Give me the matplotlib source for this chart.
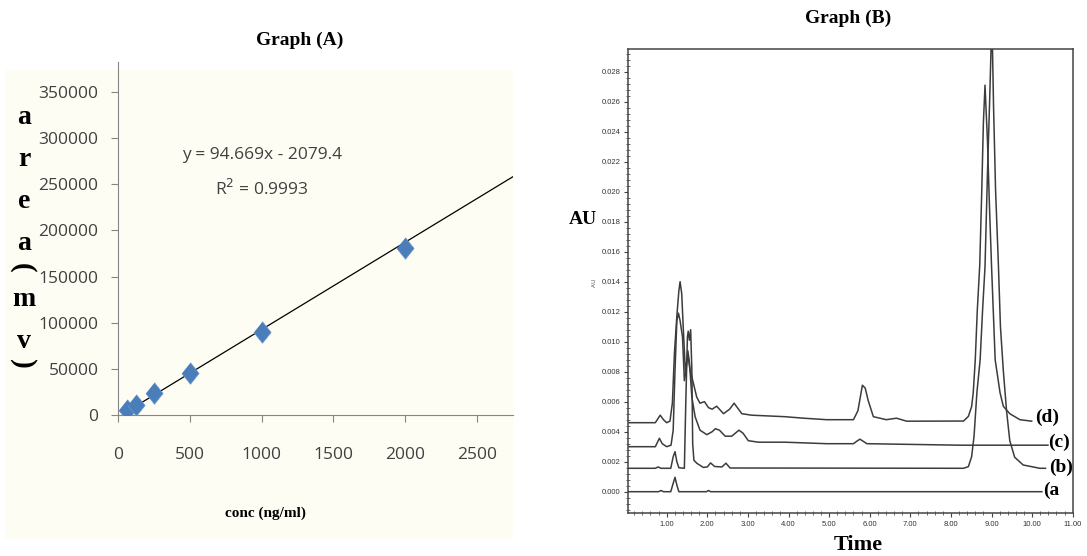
import numpy as np
import matplotlib
matplotlib.use("Agg")
import matplotlib.pyplot as plt
from matplotlib.patches import Rectangle
from matplotlib.ticker import MultipleLocator, FormatStrFormatter

# ---- Graph (A): calibration curve
conc = [62.5, 125, 250, 500, 1000, 2000]
area = [5400, 10800, 23800, 45500, 90300, 181000]
slope, intercept = 94.669, -2079.4
eq_text = "y = 94.669x - 2079.4"
r2_text = "R$^2$ = 0.9993"

# ---- Graph (B): chromatograms, (time, AU) vertices
t_a = [0.05, 0.80, 0.86, 0.92, 1.10, 1.16, 1.205, 1.25, 1.30, 1.98, 2.03, 2.08, 10.24]
au_a = [0.0, 0.0, 0.00008, 0.0, 0.0, 0.00056, 0.00096, 0.00044, 0.0, 0.0, 0.00008, 0.0, 0.0]

t_b = [0.05, 0.72, 0.79, 0.86, 1.10, 1.16, 1.205, 1.25, 1.30, 1.435, 1.47, 1.51, 1.53,
       1.56, 1.59, 1.62, 1.64, 1.67, 1.74, 1.90, 2.00, 2.08, 2.18, 2.36, 2.46, 2.56,
       8.31, 8.43, 8.51, 8.57, 8.64, 8.72, 8.78, 8.84, 8.90, 8.95, 9.01, 9.05, 9.10,
       9.17, 9.22, 9.29, 9.37, 9.45, 9.57, 9.78, 10.19, 10.33]
au_b = [0.00156, 0.00156, 0.00165, 0.00156, 0.00156, 0.00233, 0.00267, 0.0020, 0.0016,
        0.00156, 0.0059, 0.0103, 0.0107, 0.0101, 0.0108, 0.0081, 0.0032, 0.0021, 0.0019,
        0.00162, 0.00165, 0.00192, 0.00168, 0.00165, 0.0019, 0.00158,
        0.00156, 0.00167, 0.00233, 0.0037, 0.0066, 0.0088, 0.0121, 0.0150, 0.0212,
        0.0257, 0.0316, 0.0257, 0.0201, 0.0151, 0.0110, 0.0081, 0.0054, 0.0034,
        0.0023, 0.00178, 0.00156, 0.00156]

t_c = [0.05, 0.72, 0.82, 0.89, 1.00, 1.107, 1.16, 1.205, 1.25, 1.29, 1.33, 1.39, 1.435,
       1.48, 1.52, 1.56, 1.62, 1.70, 1.82, 1.99, 2.12, 2.20, 2.30, 2.44, 2.60, 2.78,
       2.88, 3.01, 3.26, 3.91, 4.94, 5.60, 5.70, 5.76, 5.93, 8.23, 10.39]
au_c = [0.0030, 0.0030, 0.00356, 0.0032, 0.0030, 0.0031, 0.0041, 0.0081, 0.0114, 0.0119,
        0.0114, 0.0103, 0.0074, 0.0081, 0.0094, 0.0086, 0.0063, 0.0050, 0.0041, 0.0038,
        0.0040, 0.0042, 0.0041, 0.0037, 0.0037, 0.0041, 0.0039, 0.0034, 0.0033, 0.0033,
        0.0032, 0.0032, 0.0034, 0.0035, 0.0032, 0.0031, 0.0031]

t_d = [0.05, 0.72, 0.84, 0.92, 1.00, 1.08, 1.14, 1.19, 1.25, 1.30, 1.33, 1.37, 1.41,
       1.46, 1.50, 1.53, 1.57, 1.66, 1.74, 1.82, 1.93, 2.03, 2.12, 2.23, 2.40, 2.55,
       2.66, 2.85, 3.09, 3.91, 4.37, 4.94, 5.60, 5.71, 5.82, 5.89, 5.96, 6.09, 6.41,
       6.66, 6.91, 8.31, 8.43, 8.51, 8.55, 8.60, 8.65, 8.71, 8.76, 8.80, 8.84, 8.90,
       8.95, 9.00, 9.09, 9.21, 9.29, 9.45, 9.70, 9.99]
au_d = [0.0046, 0.0046, 0.0051, 0.0048, 0.0046, 0.0047, 0.0059, 0.0092, 0.0117, 0.0134,
        0.0140, 0.0132, 0.0108, 0.0080, 0.0088, 0.0090, 0.0082, 0.0072, 0.0063, 0.0059,
        0.0060, 0.0056, 0.0055, 0.0057, 0.0052, 0.0055, 0.0059, 0.0052, 0.0051, 0.0050,
        0.0049, 0.0048, 0.0048, 0.0054, 0.0071, 0.0069, 0.0061, 0.0050, 0.0048, 0.0049,
        0.0047, 0.00471, 0.00502, 0.00567, 0.0066, 0.0088, 0.0121, 0.0151, 0.0201,
        0.0246, 0.0271, 0.0234, 0.0190, 0.0151, 0.0088, 0.0066, 0.0057, 0.0052, 0.0048,
        0.0047]

traces = [(t_a, au_a), (t_b, au_b), (t_c, au_c), (t_d, au_d)]
trace_labels = ["(a", "(b)", "(c)", "(d)"]
label_pos = [(10.27, 0.0001), (10.42, 0.00161), (10.39, 0.00328), (10.07, 0.00495)]

W, H = 1087, 556
fig = plt.figure(figsize=(W / 100, H / 100), dpi=100)


def fx(px):
    return px / W


def fy(py):
    return 1 - py / H


serif = "Liberation Serif"
sans = ["Open Sans", "DejaVu Sans"]

# faint cream chart area behind graph A
fig.patches.append(Rectangle((fx(6), fy(538)), fx(512) - fx(6), fy(70) - fy(538),
                             transform=fig.transFigure, color="#fdfdf4", zorder=-10))

# ---------------- Graph (A)
axA = fig.add_axes([fx(118), fy(415), fx(513) - fx(118), fy(62) - fy(415)])
axA.set_facecolor("none")
xs = np.array([conc[0], 2750])
axA.plot(xs, slope * xs + intercept, color="black", lw=0.9, zorder=2)
diamond = [(0, 1), (0.8, 0), (0, -1), (-0.8, 0)]
axA.plot(conc, area, linestyle="none", marker=diamond, markersize=15.5,
         color="#4a7ebb", markeredgecolor="#6d98cf", markeredgewidth=0.5, zorder=3)
axA.set_xlim(0, 2750)
axA.set_ylim(0, 382500)
axA.set_xticks(range(0, 2501, 500))
axA.set_yticks(range(0, 350001, 50000))
for s in ["top", "right"]:
    axA.spines[s].set_visible(False)
for s in ["left", "bottom"]:
    axA.spines[s].set_color("#868686")
    axA.spines[s].set_linewidth(0.8)
axA.tick_params(axis="y", direction="out", length=5, width=0.8, color="#868686",
                pad=9, labelsize=12.5, labelcolor="#404040")
axA.tick_params(axis="x", direction="out", length=5, width=0.8, color="#868686",
                pad=18, labelsize=12.5, labelcolor="#404040")
for lab in axA.get_xticklabels() + axA.get_yticklabels():
    lab.set_family(sans)

axA.text(1000, 282000, eq_text, ha="center", va="center", fontsize=12.5,
         family=sans, color="#404040")
axA.text(1000, 245000, r2_text, ha="center", va="center", fontsize=12.5,
         family=sans, color="#404040")

fig.text(fx(300), fy(40), "Graph (A)", ha="center", va="center", fontsize=14,
         fontweight="bold", family=serif)
fig.text(fx(265), fy(513), "conc (ng/ml)", ha="center", va="center", fontsize=11,
         fontweight="bold", family=serif)

# stacked y label "area (mv)"
ylab_chars = ["a", "r", "e", "a", "(", "m", "v", ")"]
ylab_y = [118, 160, 202, 244, 268, 300, 342, 364]
for ch, py in zip(ylab_chars, ylab_y):
    if ch in "()":
        fig.text(fx(22), fy(py), ch, ha="center", va="center", fontsize=21,
                 fontweight="bold", family=serif, rotation=-90)
    else:
        fig.text(fx(24), fy(py), ch, ha="center", va="center", fontsize=20,
                 fontweight="bold", family=serif)

# ---------------- Graph (B)
axB = fig.add_axes([fx(628), fy(513), fx(1073) - fx(628), fy(49) - fy(513)])
for (t, au) in traces:
    axB.plot(t, au, color="#3c3c3c", lw=1.1)
for lab, (lx, ly) in zip(trace_labels, label_pos):
    axB.text(lx, ly, lab, ha="left", va="center", fontsize=14, fontweight="bold",
             family=serif)
axB.set_xlim(0.047, 11.007)
axB.set_ylim(-0.00142, 0.02951)
axB.set_xticks(np.arange(1, 11.5, 1))
axB.set_yticks(np.arange(0, 0.0281, 0.002))
axB.xaxis.set_major_formatter(FormatStrFormatter("%.2f"))
axB.yaxis.set_major_formatter(FormatStrFormatter("%.3f"))
axB.xaxis.set_minor_locator(MultipleLocator(0.2))
axB.yaxis.set_minor_locator(MultipleLocator(0.0004))
for s in axB.spines.values():
    s.set_color("#444444")
    s.set_linewidth(1.1)
axB.tick_params(which="major", direction="out", length=3, width=0.8, color="#444444",
                labelsize=5.5, pad=2.5, labelcolor="#333333")
axB.tick_params(which="minor", direction="inout", length=2.5, width=0.6, color="#555555")
for lab in axB.get_xticklabels() + axB.get_yticklabels():
    lab.set_family("Liberation Sans")

fig.text(fx(848), fy(18), "Graph (B)", ha="center", va="center", fontsize=14,
         fontweight="bold", family=serif)
fig.text(fx(858), fy(545), "Time", ha="center", va="center", fontsize=16,
         fontweight="bold", family=serif)
fig.text(fx(583), fy(220), "AU", ha="center", va="center", fontsize=14,
         fontweight="bold", family=serif)
fig.text(fx(595), fy(283), "AU", ha="center", va="center", fontsize=4.5,
         family=sans, color="#555555", rotation=90)

fig.savefig("out.png", dpi=100)
